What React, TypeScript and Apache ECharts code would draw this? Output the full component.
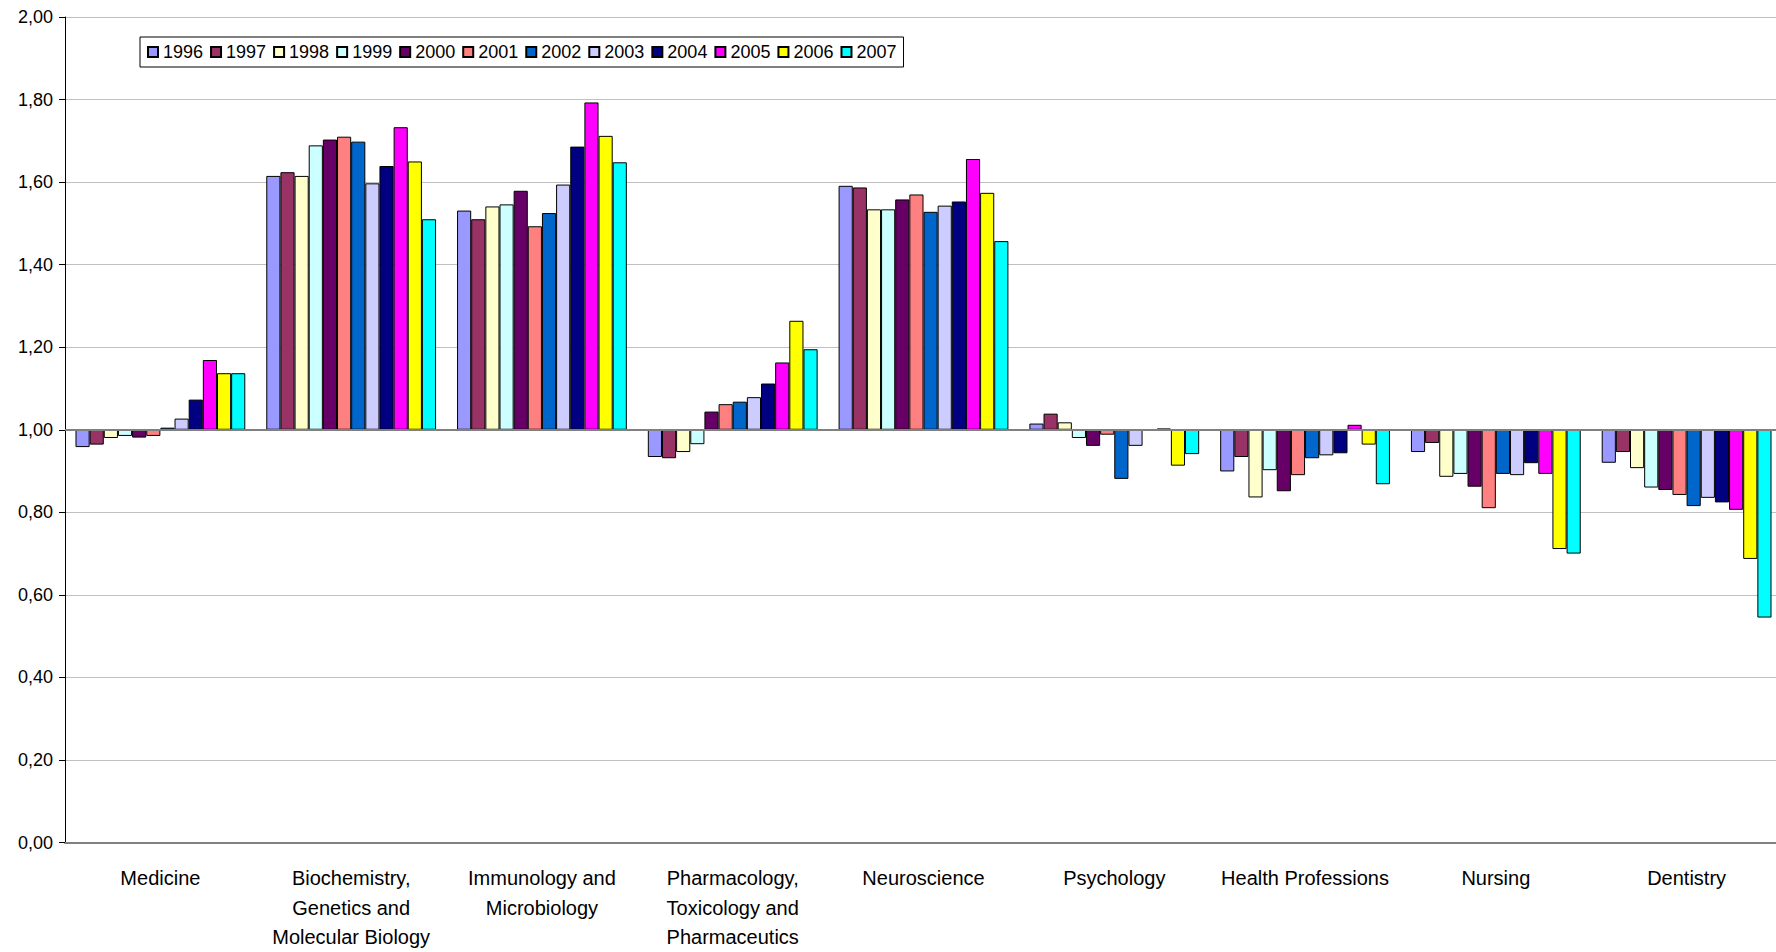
import React, { useEffect, useRef } from "react";
import * as echarts from "echarts";

const categories = [
  "Medicine",
  "Biochemistry,\nGenetics and\nMolecular Biology",
  "Immunology and\nMicrobiology",
  "Pharmacology,\nToxicology and\nPharmaceutics",
  "Neuroscience",
  "Psychology",
  "Health Professions",
  "Nursing",
  "Dentistry",
];

const years = ["1996", "1997", "1998", "1999", "2000", "2001", "2002", "2003", "2004", "2005", "2006", "2007"];

const v1996 = [0.958, 1.615, 1.531, 0.934, 1.591, 1.015, 0.899, 0.946, 0.92];
const v1997 = [0.964, 1.624, 1.51, 0.931, 1.587, 1.039, 0.934, 0.968, 0.946];
const v1998 = [0.98, 1.615, 1.541, 0.946, 1.534, 1.018, 0.836, 0.886, 0.907];
const v1999 = [0.985, 1.689, 1.546, 0.965, 1.534, 0.98, 0.902, 0.893, 0.86];
const v2000 = [0.981, 1.703, 1.579, 1.044, 1.558, 0.961, 0.851, 0.862, 0.854];
const v2001 = [0.985, 1.71, 1.493, 1.062, 1.57, 0.988, 0.89, 0.81, 0.842];
const v2002 = [1.005, 1.698, 1.525, 1.068, 1.528, 0.881, 0.931, 0.893, 0.815];
const v2003 = [1.027, 1.597, 1.594, 1.079, 1.543, 0.961, 0.938, 0.89, 0.835];
const v2004 = [1.073, 1.639, 1.686, 1.112, 1.553, 1.0, 0.943, 0.919, 0.824];
const v2005 = [1.169, 1.733, 1.793, 1.163, 1.656, 1.003, 1.012, 0.893, 0.806];
const v2006 = [1.137, 1.65, 1.712, 1.264, 1.574, 0.913, 0.964, 0.711, 0.687];
const v2007 = [1.137, 1.51, 1.648, 1.195, 1.457, 0.941, 0.868, 0.7, 0.545];

const seriesValues = [v1996, v1997, v1998, v1999, v2000, v2001, v2002, v2003, v2004, v2005, v2006, v2007];

const colors = [
  "#9999FF", "#993366", "#FFFFCC", "#CCFFFF", "#660066", "#FF8080",
  "#0066CC", "#CCCCFF", "#000080", "#FF00FF", "#FFFF00", "#00FFFF",
];

const yTicks = { min: 0, max: 2, interval: 0.2 };
const baseline = 1;

const FONT = "'Liberation Sans', Arial, sans-serif";

export default function App() {
  const ref = useRef<HTMLDivElement>(null);

  useEffect(() => {
    document.body.style.margin = "0";
    if (!ref.current) return;
    const chart = echarts.init(ref.current, undefined, { renderer: "svg" });

    const series: any[] = [];
    years.forEach((yr, i) => {
      const vals = seriesValues[i];
      series.push({
        name: "_base" + yr,
        type: "bar",
        stack: "s" + yr,
        silent: true,
        barCategoryGap: "11%",
        barGap: "0%",
        itemStyle: { color: "transparent", borderWidth: 0 },
        emphasis: { disabled: true },
        data: vals.map((v) => Math.min(v, baseline)),
      });
      const s: any = {
        name: yr,
        type: "bar",
        stack: "s" + yr,
        barCategoryGap: "11%",
        barGap: "0%",
        itemStyle: { color: colors[i], borderColor: "#000", borderWidth: 1 },
        emphasis: { disabled: true },
        data: vals.map((v) => {
          const d = Math.abs(v - baseline);
          return d < 0.0005 ? null : d;
        }),
      };
      if (i === 0) {
        s.markLine = {
          silent: true,
          symbol: "none",
          label: { show: false },
          lineStyle: { color: "#808080", width: 2, type: "solid" },
          data: [{ yAxis: baseline }],
        };
      }
      series.push(s);
    });

    chart.setOption({
      animation: false,
      textStyle: { fontFamily: FONT },
      grid: { left: 65, top: 17, right: 0, bottom: 106, containLabel: false },
      legend: {
        data: years,
        left: 140,
        top: 37,
        padding: [6, 7, 6, 7],
        borderColor: "#000",
        borderWidth: 1,
        backgroundColor: "#fff",
        itemWidth: 10,
        itemHeight: 10,
        itemGap: 7,
        icon: "rect",
        selectedMode: false,
        textStyle: { fontSize: 18, color: "#000", fontFamily: FONT },
      },
      xAxis: {
        type: "category",
        data: categories,
        axisLine: { onZero: false, lineStyle: { color: "#808080", width: 2 } },
        axisTick: { show: false },
        axisLabel: {
          interval: 0,
          margin: 21,
          fontSize: 20,
          lineHeight: 29.5,
          color: "#000",
          fontFamily: FONT,
          align: "center",
        },
        splitLine: { show: false },
      },
      yAxis: {
        type: "value",
        min: yTicks.min,
        max: yTicks.max,
        interval: yTicks.interval,
        axisLine: { show: true, lineStyle: { color: "#000", width: 1 } },
        axisTick: { show: true, length: 6, lineStyle: { color: "#000" } },
        axisLabel: {
          margin: 12,
          fontSize: 18,
          color: "#000",
          fontFamily: FONT,
          formatter: (v: number) => v.toFixed(2).replace(".", ","),
        },
        splitLine: { show: true, lineStyle: { color: "#c0c0c0", width: 1 } },
      },
      series,
    });

    return () => chart.dispose();
  }, []);

  return (
    <div
      ref={ref}
      style={{ position: "fixed", left: 0, top: 0, width: 1782, height: 952, background: "#fff" }}
    />
  );
}
